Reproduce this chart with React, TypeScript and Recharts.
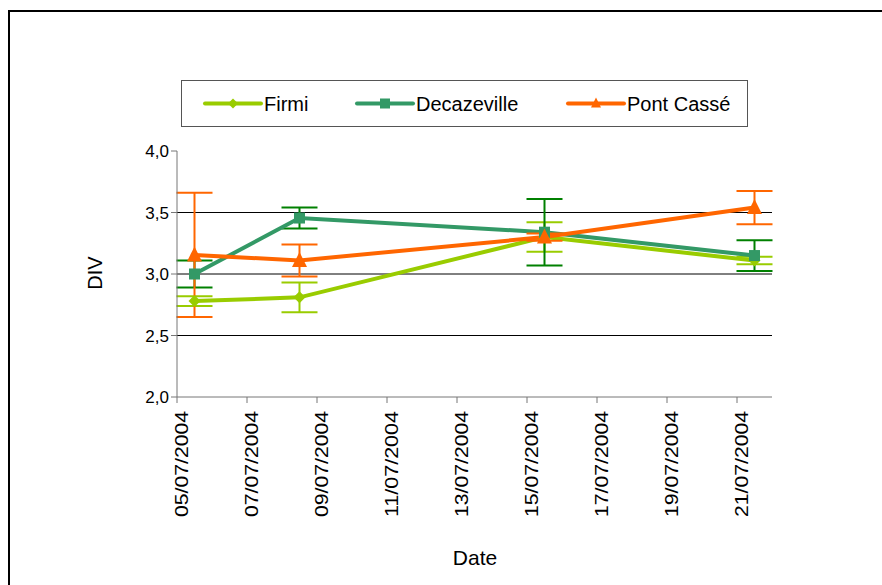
import React from "react";
import {
  LineChart,
  Line,
  XAxis,
  YAxis,
  ReferenceLine,
  ErrorBar,
  Legend,
  Label,
} from "recharts";

// sampling dates (Excel centres each point in its day)
const dates = ["2004-07-05", "2004-07-08", "2004-07-15", "2004-07-21"];

const firmi = [2.78, 2.81, 3.3, 3.11];
const firmiErr = [0.04, 0.12, 0.12, 0.03];
const decazeville = [3.0, 3.455, 3.34, 3.15];
const decazevilleErr = [0.11, 0.085, 0.27, 0.125];
const pontCasse = [3.155, 3.11, 3.3, 3.54];
const pontCasseErr = [0.505, 0.13, 0.03, 0.135];

const xTickDates = [
  "2004-07-05",
  "2004-07-07",
  "2004-07-09",
  "2004-07-11",
  "2004-07-13",
  "2004-07-15",
  "2004-07-17",
  "2004-07-19",
  "2004-07-21",
];
const xDomainDates = ["2004-07-05", "2004-07-22"];
const yTicks = [2.0, 2.5, 3.0, 3.5, 4.0];
const gridValues = [2.5, 3.0, 3.5];

const DAY = 86400000;
const toDay = (s: string) => Date.parse(s + "T00:00:00Z") / DAY;

const data = dates.map((d, i) => ({
  day: toDay(d) + 0.5,
  firmi: firmi[i],
  firmiErr: firmiErr[i],
  decazeville: decazeville[i],
  decazevilleErr: decazevilleErr[i],
  pontCasse: pontCasse[i],
  pontCasseErr: pontCasseErr[i],
}));

const FONT = "'Liberation Sans', Arial, sans-serif";
const C_FIRMI = "#99CC00";
const C_DECA = "#339966";
const C_PONT = "#FF6600";

const fmtDate = (day: number) => {
  const d = new Date(Math.round(day) * DAY);
  const dd = String(d.getUTCDate()).padStart(2, "0");
  const mm = String(d.getUTCMonth() + 1).padStart(2, "0");
  return `${dd}/${mm}/${d.getUTCFullYear()}`;
};

const Diamond = ({ cx, cy, fill, size = 6 }: any) => (
  <path
    d={`M${cx},${cy - size}L${cx + size},${cy}L${cx},${cy + size}L${cx - size},${cy}Z`}
    fill={fill}
  />
);
const Square = ({ cx, cy, fill, size = 5 }: any) => (
  <rect x={cx - size} y={cy - size} width={size * 2} height={size * 2} fill={fill} />
);
const Triangle = ({ cx, cy, fill, size = 7 }: any) => (
  <path
    d={`M${cx},${cy - size - 1}L${cx + size},${cy + size - 1}L${cx - size},${cy + size - 1}Z`}
    fill={fill}
  />
);

const XTick = ({ x, y, payload }: any) => (
  <text
    x={0}
    y={0}
    transform={`translate(${x + 5},${y + 6}) rotate(-90)`}
    textAnchor="end"
    dominantBaseline="central"
    fontFamily={FONT}
    fontSize={18}
    fill="#000"
    textLength={106}
    lengthAdjust="spacingAndGlyphs"
  >
    {fmtDate(payload.value)}
  </text>
);

const legendItems = [
  { name: "Firmi", color: C_FIRMI, Shape: Diamond, x: 24 },
  { name: "Decazeville", color: C_DECA, Shape: Square, x: 176 },
  { name: "Pont Cassé", color: C_PONT, Shape: Triangle, x: 387 },
];

const renderLegend = () => (
  <svg width={567} height={47} style={{ display: "block" }}>
    <rect x={0.5} y={0.5} width={566} height={46} fill="#fff" stroke="#555" />
    {legendItems.map(({ name, color, Shape, x }) => (
      <g key={name}>
        <line x1={x} x2={x + 56} y1={23.5} y2={23.5} stroke={color} strokeWidth={4} strokeLinecap="round" />
        <Shape cx={x + 28} cy={23.5} fill={color} size={5} />
        <text x={x + 59} y={24} dominantBaseline="central" fontFamily={FONT} fontSize={20} fill="#000">
          {name}
        </text>
      </g>
    ))}
  </svg>
);

export default function App() {
  return (
    <div style={{ position: "relative", width: 882, height: 585, overflow: "hidden" }}>
      <style>{"html,body{margin:0;padding:0;overflow:hidden}"}</style>
      <svg width={882} height={585} style={{ position: "absolute", left: 0, top: 0 }}>
        <path d="M9,585V11H882" fill="none" stroke="#000" strokeWidth={2} />
      </svg>
      <div style={{ position: "absolute", left: 8, top: 8, width: 874, height: 577 }}>
        <LineChart
          width={874}
          height={577}
          data={data}
          margin={{ top: 143, right: 110, bottom: 41, left: 109 }}
        >
          {gridValues.map((v) => (
            <ReferenceLine key={v} y={v} stroke="#000" strokeWidth={1} />
          ))}
          <XAxis
            dataKey="day"
            type="number"
            domain={xDomainDates.map(toDay)}
            ticks={xTickDates.map(toDay)}
            tick={<XTick />}
            interval={0}
            height={100}
            stroke="#777"
            tickLine={{ stroke: "#777" }}
            tickSize={6}
            allowDataOverflow
          >
            <Label
              content={({ viewBox }: any) => (
                <text
                  x={467}
                  y={viewBox.y + 160}
                  textAnchor="middle"
                  dominantBaseline="central"
                  fontFamily={FONT}
                  fontSize={21}
                  fill="#000"
                >
                  Date
                </text>
              )}
            />
          </XAxis>
          <YAxis
            type="number"
            domain={[2, 4]}
            ticks={yTicks}
            interval={0}
            width={60}
            stroke="#777"
            tickLine={{ stroke: "#777" }}
            tickSize={6}
            tick={{ fill: "#000", fontFamily: FONT, fontSize: 17 }}
            tickFormatter={(v: number) => v.toFixed(1).replace(".", ",")}
          >
            <Label
              content={() => (
                <text
                  x={0}
                  y={0}
                  transform="translate(87,265) rotate(-90)"
                  textAnchor="middle"
                  dominantBaseline="central"
                  fontFamily={FONT}
                  fontSize={20}
                  fill="#000"
                >
                  DIV
                </text>
              )}
            />
          </YAxis>
          <Legend
            content={renderLegend}
            wrapperStyle={{ position: "absolute", left: 173, top: 72, width: 567, height: 47 }}
          />
          <Line
            dataKey="firmi"
            name="Firmi"
            stroke={C_FIRMI}
            strokeWidth={4}
            isAnimationActive={false}
            dot={(p: any) => <Diamond key={p.index} cx={p.cx} cy={p.cy} fill={C_FIRMI} size={6} />}
            activeDot={false}
          >
            <ErrorBar dataKey="firmiErr" direction="y" width={18} stroke={C_FIRMI} strokeWidth={2} isAnimationActive={false} />
          </Line>
          <Line
            dataKey="decazeville"
            name="Decazeville"
            stroke={C_DECA}
            strokeWidth={4}
            isAnimationActive={false}
            dot={(p: any) => <Square key={p.index} cx={p.cx} cy={p.cy} fill={C_DECA} size={5.5} />}
            activeDot={false}
          >
            <ErrorBar dataKey="decazevilleErr" direction="y" width={18} stroke="#008000" strokeWidth={2} isAnimationActive={false} />
          </Line>
          <Line
            dataKey="pontCasse"
            name="Pont Cassé"
            stroke={C_PONT}
            strokeWidth={4}
            isAnimationActive={false}
            dot={(p: any) => <Triangle key={p.index} cx={p.cx} cy={p.cy} fill={C_PONT} size={7.5} />}
            activeDot={false}
          >
            <ErrorBar dataKey="pontCasseErr" direction="y" width={18} stroke={C_PONT} strokeWidth={2} isAnimationActive={false} />
          </Line>
        </LineChart>
      </div>
    </div>
  );
}
